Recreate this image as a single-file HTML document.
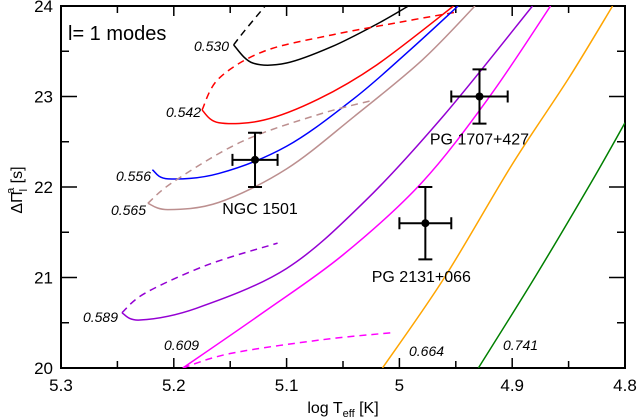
<!DOCTYPE html>
<html><head><meta charset="utf-8"><style>
html,body{margin:0;padding:0;background:#fff;}
svg{display:block;font-family:"Liberation Sans",sans-serif;}
</style></head><body>
<svg id="chart" width="638" height="419" viewBox="0 0 638 419" xmlns="http://www.w3.org/2000/svg">
<g id="axes"></g>
<g id="curves"></g>
<g id="stars"></g>
<text x="68" y="40" font-size="20">l= 1 modes</text>
<text x="343" y="413" font-size="16" text-anchor="middle">log T<tspan font-size="11" dy="4">eff</tspan><tspan dy="-4"> [K]</tspan></text>
<text transform="translate(22,190) rotate(-90)" font-size="16" text-anchor="middle">ΔΠ<tspan font-size="11" dy="5">l</tspan><tspan font-size="11" dy="-13" dx="-5">a</tspan><tspan dy="8"> [s]</tspan></text>
</svg>
<script>
const xTicks=[5.3,5.2,5.1,5.0,4.9,4.8];
const xTickLabels=["5.3","5.2","5.1","5","4.9","4.8"];
const yTicks=[20,21,22,23,24];
const yTickLabels=["20","21","22","23","24"];
const black530Dash=[[5.147,23.57],[5.137,23.73],[5.119,24.0]];
const black530Solid=[[5.147,23.57],[5.130,23.37],[5.100,23.37],[5.060,23.55],[5.020,23.80],[4.992,24.0]];
const red542Dash=[[5.175,22.85],[5.160,23.20],[5.120,23.50],[5.060,23.68],[5.000,23.82],[4.951,23.93]];
const red542Solid=[[5.175,22.85],[5.160,22.71],[5.120,22.74],[5.072,22.97],[5.020,23.35],[4.952,24.0]];
const blue556Solid=[[5.219,22.19],[5.205,22.09],[5.160,22.15],[5.100,22.45],[5.040,22.98],[4.990,23.52],[4.948,24.0]];
const brown565Dash=[[5.223,21.82],[5.200,22.06],[5.140,22.50],[5.072,22.80],[5.023,22.96]];
const brown565Solid=[[5.223,21.82],[5.205,21.75],[5.160,21.83],[5.100,22.20],[5.040,22.78],[4.980,23.40],[4.933,24.0]];
const purple589Dash=[[5.246,20.61],[5.225,20.83],[5.170,21.14],[5.108,21.38]];
const purple589Solid=[[5.246,20.61],[5.230,20.53],[5.180,20.66],[5.100,21.10],[5.030,21.85],[4.960,22.80],[4.882,24.0]];
const magenta609Solid=[[5.192,20.0],[5.120,20.62],[5.050,21.25],[4.980,22.05],[4.920,23.0],[4.866,24.0]];
const magenta609Dash=[[5.192,20.0],[5.150,20.16],[5.070,20.31],[5.007,20.39]];
const orange664Solid=[[5.015,20.0],[4.960,21.0],[4.900,22.25],[4.850,23.2],[4.811,24.0]];
const green741Solid=[[4.930,20.0],[4.880,21.0],[4.830,22.05],[4.800,22.71]];
const starNames=["NGC 1501","PG 1707+427","PG 2131+066"];
const starLogT=[5.128,4.929,4.977];
const starLogTErr=[0.02,0.025,0.023];
const starPi=[22.3,23.0,21.6];
const starPiErr=[0.3,0.3,0.4];
const massLabels=["0.530","0.542","0.556","0.565","0.589","0.609","0.664","0.741"];

const X0=61,X1=625,Y0=6,Y1=368;
const xs=v=>X0+(5.3-v)/0.5*(X1-X0);
const ys=v=>Y1-(v-20)/4*(Y1-Y0);
const NS="http://www.w3.org/2000/svg";
function mk(tag,attrs,parent){const e=document.createElementNS(NS,tag);for(const k in attrs)e.setAttribute(k,attrs[k]);parent.appendChild(e);return e;}
const axes=document.getElementById('axes');
const frame=mk('rect',{x:X0,y:Y0,width:X1-X0,height:Y1-Y0,fill:'none',stroke:'#000','stroke-width':2},axes);


for(let i=0;i<xTicks.length;i++){
  const x=xs(xTicks[i]);
  const t=mk('text',{x:x,y:391,'font-size':17,'text-anchor':'middle'},axes);t.textContent=xTickLabels[i];
  
  
}
for(let v=5.3;v>=4.799;v-=0.05){
  const x=xs(v);const major=Math.abs(Math.round(v*10)-v*10)<0.01;const L=major?10:7;
  const tk=mk('path',{d:`M${x},${Y1}v${-L}M${x},${Y0}v${L}`,stroke:'#000','stroke-width':1.5},axes);
  
  
}
for(let i=0;i<yTicks.length;i++){
  const y=ys(yTicks[i]);
  const t=mk('text',{x:53,y:y+6,'font-size':17,'text-anchor':'end'},axes);t.textContent=yTickLabels[i];
  
  
}
for(let v=20;v<=24.001;v+=0.5){
  const y=ys(v);const major=Math.abs(v-Math.round(v))<0.01;const L=major?16:8;
  const tk=mk('path',{d:`M${X0},${y}h${L}M${X1},${y}h${-L}`,stroke:'#000','stroke-width':1.5},axes);
  
  
}
function smooth(pts){
  const p=pts.map(a=>[xs(a[0]),ys(a[1])]);
  let d=`M${p[0][0]},${p[0][1]}`;
  for(let i=0;i<p.length-1;i++){
    const p0=p[i-1]||p[i],p1=p[i],p2=p[i+1],p3=p[i+2]||p[i+1];
    const c1=[p1[0]+(p2[0]-p0[0])/6,p1[1]+(p2[1]-p0[1])/6];
    const c2=[p2[0]-(p3[0]-p1[0])/6,p2[1]-(p3[1]-p1[1])/6];
    d+=`C${c1[0]},${c1[1]} ${c2[0]},${c2[1]} ${p2[0]},${p2[1]}`;
  }
  return d;
}
const curvesG=document.getElementById('curves');
const series=[
 [black530Dash,'#000',true,'curve-0530-dashed'],[black530Solid,'#000',false,'curve-0530'],
 [red542Dash,'#ff0000',true,'curve-0542-dashed'],[red542Solid,'#ff0000',false,'curve-0542'],
 [blue556Solid,'#0000ff',false,'curve-0556'],
 [brown565Dash,'#bc8f8f',true,'curve-0565-dashed'],[brown565Solid,'#bc8f8f',false,'curve-0565'],
 [purple589Dash,'#9400d3',true,'curve-0589-dashed'],[purple589Solid,'#9400d3',false,'curve-0589'],
 [magenta609Dash,'#ff00ff',true,'curve-0609-dashed'],[magenta609Solid,'#ff00ff',false,'curve-0609'],
 [orange664Solid,'#ffa500',false,'curve-0664'],[green741Solid,'#008000',false,'curve-0741']];
const cp=mk('clipPath',{id:'clip'},curvesG);mk('rect',{x:X0,y:Y0,width:X1-X0,height:Y1-Y0},cp);
for(const s of series){
  const e=mk('path',{d:smooth(s[0]),fill:'none',stroke:s[1],'stroke-width':1.5,'clip-path':'url(#clip)'},curvesG);
  if(s[2])e.setAttribute('stroke-dasharray','7,5');
  
  
}
const labelPos=[[229,51,'end'],[201,117,'end'],[151,181,'end'],[146,215,'end'],[118,322,'end'],[164,350,'start'],[409,356,'start'],[503,350,'start']];
for(let i=0;i<massLabels.length;i++){
  const t=mk('text',{x:labelPos[i][0],y:labelPos[i][1],'font-size':14,'font-style':'italic','text-anchor':labelPos[i][2]},curvesG);
  t.textContent=massLabels[i];
  
  
}
const starsG=document.getElementById('stars');
const nameOff=[[5,54],[0,48],[-4,59]];
for(let i=0;i<starNames.length;i++){
  const cx=xs(starLogT[i]),cy=ys(starPi[i]);
  const xa=xs(starLogT[i]+starLogTErr[i]),xb=xs(starLogT[i]-starLogTErr[i]);
  const ya=ys(starPi[i]+starPiErr[i]),yb=ys(starPi[i]-starPiErr[i]);
  const g=mk('g',{},starsG);
  
  
  mk('path',{d:`M${xa},${cy}H${xb}M${xa},${cy-6}v12M${xb},${cy-6}v12M${cx},${ya}V${yb}M${cx-7},${ya}h14M${cx-7},${yb}h14`,stroke:'#000','stroke-width':2,fill:'none'},g);
  mk('circle',{cx:cx,cy:cy,r:4,fill:'#000'},g);
  const t=mk('text',{x:cx+nameOff[i][0],y:cy+nameOff[i][1],'font-size':16,'text-anchor':'middle'},g);
  t.textContent=starNames[i];
  
  
}
</script>
</body></html>
